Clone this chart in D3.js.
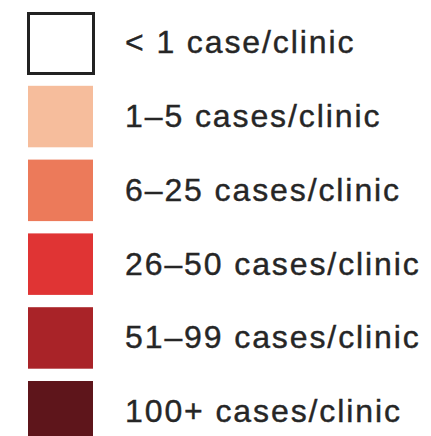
<!DOCTYPE html>
<html><head><meta charset="utf-8">
<script src="https://cdn.jsdelivr.net/npm/d3@7"></script>
<style>html,body{margin:0;padding:0;background:#fff;overflow:hidden}</style>
</head><body>
<script>
const categories = ["< 1 case/clinic","1–5 cases/clinic","6–25 cases/clinic","26–50 cases/clinic","51–99 cases/clinic","100+ cases/clinic"];
const colors = ["#ffffff","#f6bd9c","#ec7a5a","#e03434","#a92328","#5e151b"];
const outlined = [true,false,false,false,false,false];

const W = 431, H = 436;
const svg = d3.select("body").append("svg").attr("width",W).attr("height",H);
const y = d3.scaleBand().domain(categories).range([12, 442.5]).paddingInner(0.1667).paddingOuter(0);
const color = d3.scaleOrdinal().domain(categories).range(colors);

const g = svg.selectAll("g.item").data(categories).join("g").attr("class","item");
g.filter((d,i)=>!outlined[i]).append("rect")
  .attr("x", 28)
  .attr("y", d=> y(d))
  .attr("width", 65)
  .attr("height", y.bandwidth())
  .attr("fill", d=>color(d));
g.filter((d,i)=>outlined[i]).append("rect")
  .attr("x", 28.5)
  .attr("y", d=> y(d)+1.5)
  .attr("width", 65)
  .attr("height", y.bandwidth()-1.5)
  .attr("fill", d=>color(d))
  .attr("stroke", "#222")
  .attr("stroke-width", 3);
g.append("text")
  .attr("x", 125)
  .attr("y", d=> y(d) + y.bandwidth()/2 + 10.5)
  .attr("font-family", "'Liberation Sans', Arial, sans-serif")
  .attr("font-size", 32)
  .attr("letter-spacing", "1.9px")
  .attr("fill", "#262626")
  .attr("stroke", "#262626")
  .attr("stroke-width", 0.4)
  .text(d=>d);
</script>
</body></html>
